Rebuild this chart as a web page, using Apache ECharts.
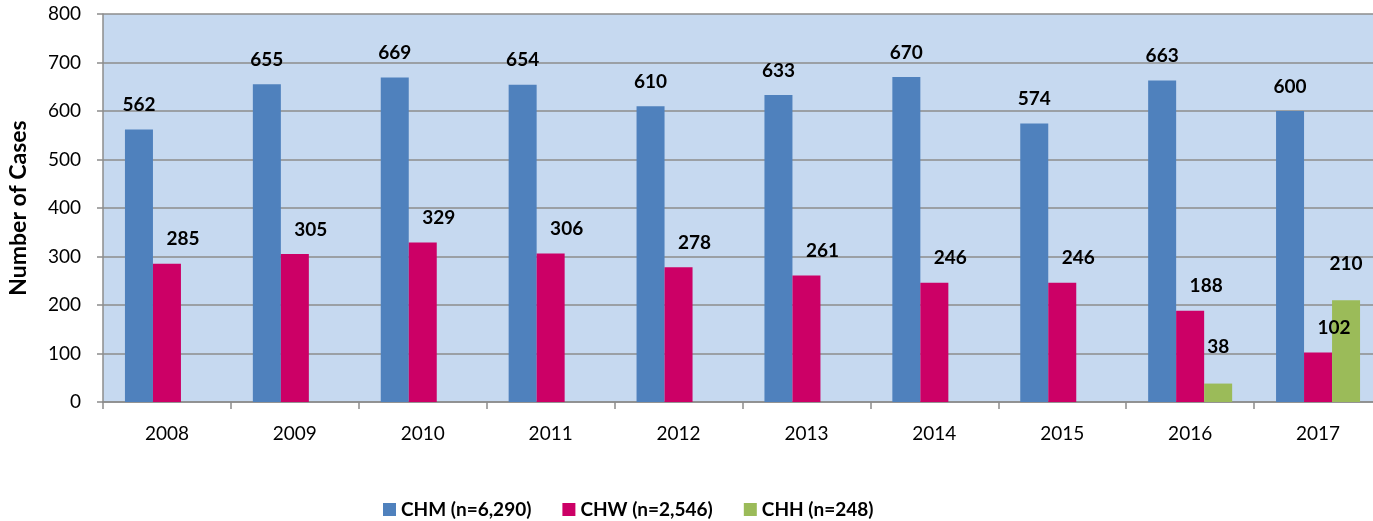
<!DOCTYPE html>
<html>
<head>
<meta charset="utf-8">
<script src="https://cdn.jsdelivr.net/npm/echarts@6/dist/echarts.min.js"></script>
<style>
  html, body { margin: 0; padding: 0; background: #fff; }
  #chart { width: 1373px; height: 521px; }
</style>
</head>
<body>
<div id="chart"></div>
<script>
// 数据
const years = ["2008", "2009", "2010", "2011", "2012", "2013", "2014", "2015", "2016", "2017"];
const chm = [562, 655, 669, 654, 610, 633, 670, 574, 663, 600];
const chw = [285, 305, 329, 306, 278, 261, 246, 246, 188, 102];
const chh = [null, null, null, null, null, null, null, null, 38, 210];
const seriesNames = ["CHM (n=6,290)", "CHW (n=2,546)", "CHH (n=248)"];
const yTicks = { min: 0, max: 800, interval: 100 };

const font = "Lato, 'Open Sans', sans-serif";
const colors = ["#4F81BD", "#CC0066", "#9BBB59"];

const labelStyle = {
  show: true,
  position: "top",
  color: "#000",
  fontFamily: font,
  fontWeight: "bold",
  fontSize: 19
};

const chart = echarts.init(document.getElementById("chart"));
chart.setOption({
  animation: false,
  textStyle: { fontFamily: font },
  grid: {
    left: 103,
    right: -9,
    top: 14,
    bottom: 119,
    outerBoundsMode: "none",
    containLabel: false,
    show: true,
    backgroundColor: "#C6D9F0",
    borderWidth: 0
  },
  legend: {
    top: 500,
    left: 383,
    padding: 0,
    icon: "rect",
    itemWidth: 13,
    itemHeight: 13,
    itemGap: 31,
    textStyle: { fontFamily: font, fontWeight: "bold", fontSize: 19, color: "#000" },
    data: seriesNames
  },
  xAxis: {
    type: "category",
    data: years,
    axisLine: { lineStyle: { color: "#8C8C8C", width: 1.5 } },
    axisTick: { show: true, length: 7, lineStyle: { color: "#8C8C8C", width: 1.5 } },
    axisLabel: { color: "#000", fontSize: 19, margin: 22, fontFamily: font }
  },
  yAxis: {
    type: "value",
    min: yTicks.min,
    max: yTicks.max,
    interval: yTicks.interval,
    name: "Number of Cases",
    nameLocation: "middle",
    nameGap: 73,
    nameTextStyle: { fontFamily: font, fontWeight: "bold", fontSize: 23, color: "#000" },
    axisLine: { show: true, lineStyle: { color: "#8C8C8C", width: 1.5 } },
    axisTick: { show: true, length: 6, lineStyle: { color: "#8C8C8C", width: 1.5 } },
    axisLabel: { color: "#000", fontSize: 19, margin: 22, fontFamily: font },
    splitLine: { lineStyle: { color: "#8C8C8C", width: 1.5 } }
  },
  series: [
    {
      name: seriesNames[0],
      type: "bar",
      data: chm,
      barWidth: 28,
      barGap: "0%",
      itemStyle: { color: colors[0] },
      label: Object.assign({}, labelStyle, { offset: [0, -10] })
    },
    {
      name: seriesNames[1],
      type: "bar",
      data: chw,
      barWidth: 28,
      barGap: "0%",
      itemStyle: { color: colors[1] },
      label: Object.assign({}, labelStyle, { offset: [16, -10] })
    },
    {
      name: seriesNames[2],
      type: "bar",
      data: chh,
      barWidth: 28,
      barGap: "0%",
      itemStyle: { color: colors[2] },
      label: Object.assign({}, labelStyle, { offset: [0, -22] })
    }
  ]
});
</script>
</body>
</html>
